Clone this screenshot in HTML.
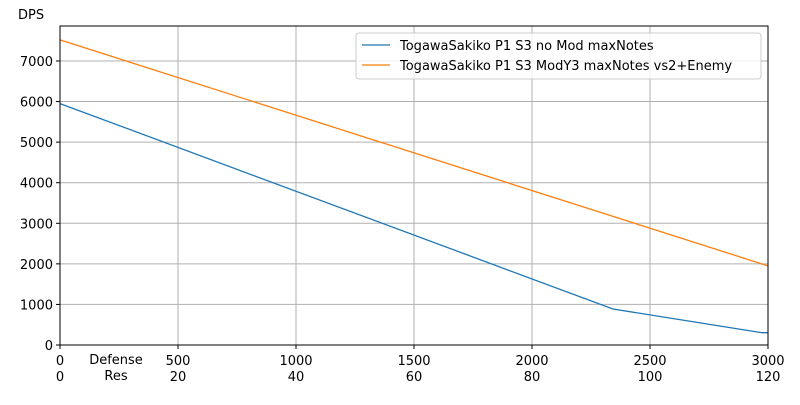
<!DOCTYPE html>
<html><head><meta charset="utf-8"><style>
body{margin:0;background:#fff;font-family:"Liberation Sans","DejaVu Sans",sans-serif}
svg text{font-family:"DejaVu Sans","Liberation Sans",sans-serif;font-size:13px;fill:#000}
</style></head><body>
<svg id="chart" width="800" height="400"></svg>
<script>
const xTicks=[0,500,1000,1500,2000,2500,3000];
const resTicks=[0,20,40,60,80,100,120];
const yTicks=[0,1000,2000,3000,4000,5000,6000,7000];
const blueX=[0,2343,2975,3000];
const blueY=[5950,887,303,303];
const orangeX=[0,3000];
const orangeY=[7520,1950];
const seriesNames=["TogawaSakiko P1 S3 no Mod maxNotes","TogawaSakiko P1 S3 ModY3 maxNotes vs2+Enemy"];
const L=60,R=768,T=26,B=345,xMax=3000,yMax=7862;
const sx=v=>L+v/xMax*(R-L), sy=v=>B-v/yMax*(B-T);
const svg=document.getElementById('chart');const NS='http://www.w3.org/2000/svg';
function mk(tag,attrs,parent){const e=document.createElementNS(NS,tag);for(const k in attrs)e.setAttribute(k,attrs[k]);(parent||svg).appendChild(e);return e;}
// grid
xTicks.forEach((t,i)=>{
 const g=mk('line',{x1:sx(t),x2:sx(t),y1:T,y2:B,stroke:'#b0b0b0','stroke-width':1});
 
 
 mk('line',{x1:sx(t),x2:sx(t),y1:B,y2:B+4,stroke:'#000'});
 const a=mk('text',{x:sx(t),y:B+20,'text-anchor':'middle'});a.textContent=t;
 
 
 const b=mk('text',{x:sx(t),y:B+36,'text-anchor':'middle'});b.textContent=resTicks[i];
 
 
});
yTicks.forEach(t=>{
 const g=mk('line',{x1:L,x2:R,y1:sy(t),y2:sy(t),stroke:'#b0b0b0','stroke-width':1});
 
 
 mk('line',{x1:L-4,x2:L,y1:sy(t),y2:sy(t),stroke:'#000'});
 const a=mk('text',{x:L-7,y:sy(t)+5,'text-anchor':'end'});a.textContent=t;
 
 
});
function line(xs,ys,c,name){const p=mk('polyline',{points:xs.map((x,i)=>sx(x)+','+sy(ys[i])).join(' '),fill:'none',stroke:c,'stroke-width':1.3});
 
 }
line(blueX,blueY,'#1f77b4','series-no-mod');
line(orangeX,orangeY,'#ff7f0e','series-mody3');
const fr=mk('rect',{x:L,y:T,width:R-L,height:B-T,fill:'none',stroke:'#000','stroke-width':1});


const yl=mk('text',{x:18,y:19});yl.textContent='DPS';


const d1=mk('text',{x:116,y:364,'text-anchor':'middle'});d1.textContent='Defense';


const d2=mk('text',{x:116,y:380,'text-anchor':'middle'});d2.textContent='Res';


// legend
const lg=mk('g',{});


mk('rect',{x:356,y:33,width:405,height:46,rx:3,fill:'#fff','fill-opacity':0.8,stroke:'#ccc'},lg);
['#1f77b4','#ff7f0e'].forEach((c,i)=>{
 const y=45+i*20;
 mk('line',{x1:362,x2:390,y1:y,y2:y,stroke:c,'stroke-width':1.3},lg);
 const t=mk('text',{x:400,y:y+5},lg);t.textContent=seriesNames[i];
 
 
});
</script>
</body></html>
